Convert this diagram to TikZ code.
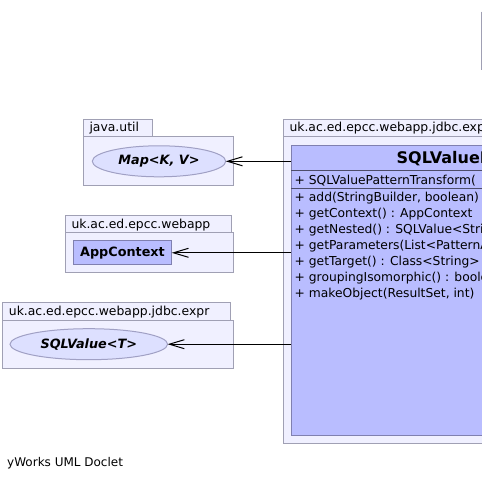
\documentclass[tikz,border=0pt]{standalone}
\usepackage{fontspec}
\setmainfont{DejaVu Sans}
\usetikzlibrary{arrows.meta,shapes.geometric}
\definecolor{pkgfill}{RGB}{240,240,255}
\definecolor{pkgdraw}{RGB}{160,160,180}
\definecolor{clsfill}{RGB}{185,189,255}
\definecolor{clsdraw}{RGB}{128,128,176}
\definecolor{ellfill}{RGB}{221,224,255}
\definecolor{elldraw}{RGB}{160,160,196}
\tikzset{
  pkgbox/.style={draw=pkgdraw, fill=pkgfill, line width=1pt, inner sep=0pt, outer sep=0pt, anchor=north west},
  clsbox/.style={draw=clsdraw, fill=clsfill, line width=1pt, inner sep=0pt, outer sep=0pt},
  ifcell/.style={ellipse, draw=elldraw, fill=ellfill, line width=1pt, inner sep=0pt, outer sep=0pt,
     font=\fontsize{12.8}{14}\selectfont\bfseries\itshape},
  pkglabel/.style={anchor=base west, inner sep=0pt, font=\fontsize{12.4}{14}\selectfont},
  member/.style={anchor=base west, inner sep=0pt, font=\fontsize{12.3}{14}\selectfont},
  dep/.style={draw=black, line width=1pt, -{Straight Barb[length=15pt,width=9pt,line width=1pt]}},
}
\begin{document}
\begin{tikzpicture}[x=1pt,y=-1pt]
\path[use as bounding box, clip] (0,0) rectangle (482,481);
\fill[white] (0,0) rectangle (482,481);

% stray border at right top
\draw[pkgdraw, line width=1pt] (481.5,11.7) -- (481.5,70);

% package java.util
\node[pkgbox, minimum width=69.4pt, minimum height=16.5pt] (p1tab) at (83.3,119.7) {};
\node[pkgbox, minimum width=150pt, minimum height=49pt] (p1) at (83.3,136.2) {};
\node[pkglabel] (p1lab) at (89.3,131.7) {java.util};
\node[ifcell, minimum width=133.4pt, minimum height=31pt] (map) at (159,161.3) {Map<K, V>};

% package uk.ac.ed.epcc.webapp
\node[pkgbox, minimum width=165.7pt, minimum height=17pt] (p2tab) at (65.3,216) {};
\node[pkgbox, minimum width=168pt, minimum height=39.3pt] (p2) at (65.3,233) {};
\node[pkglabel] (p2lab) at (71.3,228.5) {uk.ac.ed.epcc.webapp};
\node[clsbox, minimum width=98.4pt, minimum height=23.7pt,
      font=\fontsize{12.8}{14}\selectfont\bfseries] (app) at (122.5,252.8) {AppContext};

% package uk.ac.ed.epcc.webapp.jdbc.expr (left)
\node[pkgbox, minimum width=228pt, minimum height=17.3pt] (p3tab) at (2.7,302.7) {};
\node[pkgbox, minimum width=230.6pt, minimum height=48.3pt] (p3) at (2.7,320) {};
\node[pkglabel] (p3lab) at (8.7,315.5) {uk.ac.ed.epcc.webapp.jdbc.expr};
\node[ifcell, minimum width=157.6pt, minimum height=31pt] (sqlv) at (88.8,344.2) {SQLValue<T>};

% main package
\node[pkgbox, minimum width=420pt, minimum height=16.8pt] (p4tab) at (283.3,119.5) {};
\node[pkgbox, minimum width=520pt, minimum height=307pt] (p4) at (283.3,136.3) {};
\node[pkglabel] (p4lab) at (289.3,131.7) {uk.ac.ed.epcc.webapp.jdbc.expr};

% class
\node[clsbox, anchor=north west, minimum width=500pt, minimum height=290pt] (cls) at (291,145.7) {};
\node[anchor=base west, inner sep=0pt, font=\fontsize{16}{18}\selectfont\bfseries] (title) at (396.5,163.3) {SQLValuePatternTransform};
\draw[clsdraw!60!black, line width=1pt] (291,171) -- (800,171);
\draw[clsdraw!60!black, line width=1pt] (291,188.3) -- (800,188.3);
\node[member] (m0) at (294.5,185) {+ SQLValuePatternTransform(};
\node[member] (m1) at (294.5,201.5) {+ add(StringBuilder, boolean)};
\node[member] (m2) at (294.5,217.5) {+ getContext() : AppContext};
\node[member] (m3) at (294.5,233.5) {+ getNested() : SQLValue<String>};
\node[member] (m4) at (294.5,249.5) {+ getParameters(List<PatternArgument>)};
\node[member] (m5) at (294.5,265.5) {+ getTarget() : Class<String>};
\node[member] (m6) at (294.5,281.3) {+ groupingIsomorphic() : boolean};
\node[member] (m7) at (294.5,297.3) {+ makeObject(ResultSet, int)};

% dependencies
\draw[dep] (cls.west |- map.east) -- (map.east);
\draw[dep] (cls.west |- app.east) -- (app.east);
\draw[dep] (cls.west |- sqlv.east) -- (sqlv.east);

% footer
\node[anchor=base west, inner sep=0pt, font=\fontsize{12}{14}\selectfont] (footer) at (7,466.7) {yWorks UML Doclet};
\end{tikzpicture}
\end{document}
